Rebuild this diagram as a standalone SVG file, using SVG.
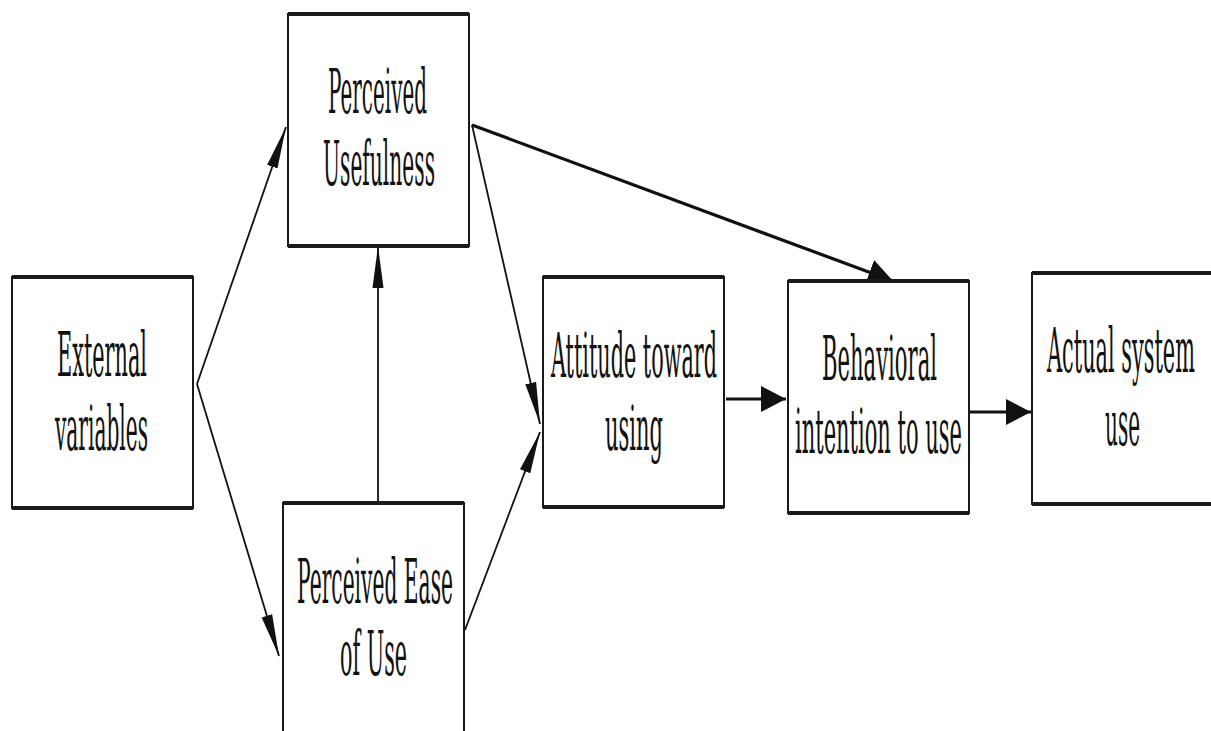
<svg xmlns="http://www.w3.org/2000/svg" width="1211" height="731" viewBox="0 0 1211 731">
<style>
.box{fill:#fff;stroke:#1a1a1a;stroke-width:2}
.edge{fill:none;stroke:#1a1a1a;stroke-width:4}
.lbl{font-family:"DejaVu Serif","Liberation Serif",serif;font-size:21px;fill:#111}
.thin{fill:none;stroke:#111;stroke-width:1.8}
.thick{fill:none;stroke:#111;stroke-width:3.2}
</style>
<defs>
<marker id="narrow" markerUnits="userSpaceOnUse" viewBox="0 0 42 12" markerWidth="42" markerHeight="12" refX="42" refY="6" orient="auto">
<path d="M0,0.5 L42,6 L0,11.5 Z" fill="#111"/>
</marker>
<marker id="wide" markerUnits="userSpaceOnUse" viewBox="0 0 25 26" markerWidth="25" markerHeight="26" refX="25" refY="13" orient="auto">
<path d="M0,0 L25,13 L0,26 Z" fill="#111"/>
</marker>
</defs>
<rect width="1211" height="731" fill="#fff"/>
<g id="connectors">
<path class="thin" d="M197,384 L286,127" marker-end="url(#narrow)"/>
<path class="thin" d="M197,384 L279,656" marker-end="url(#narrow)"/>
<path class="thin" d="M378,503 L378,246" marker-end="url(#narrow)"/>
<path class="thin" d="M472,125 L540,424" marker-end="url(#narrow)"/>
<path class="thin" d="M465,630 L540,432" marker-end="url(#narrow)"/>
<path class="thick" d="M472,125 L893,281" marker-end="url(#wide)"/>
<path class="thick" d="M726,399 L786,399" marker-end="url(#wide)"/>
<path class="thick" d="M970,412 L1031,412" marker-end="url(#wide)"/>
</g>
<g id="external">
<rect class="box" x="12" y="277" width="181" height="231"/>
<path class="edge" d="M12,277 H193 M12,508 H193"/>
<text class="lbl" transform="translate(57,376) scale(1,2.9)" textLength="90" lengthAdjust="spacingAndGlyphs">External</text>
<text class="lbl" transform="translate(55,450) scale(1,2.9)" textLength="93" lengthAdjust="spacingAndGlyphs">variables</text>
</g>
<g id="pu">
<rect class="box" x="288" y="14" width="181" height="232"/>
<path class="edge" d="M288,14 H469 M288,246 H469"/>
<text class="lbl" transform="translate(328,113) scale(1,2.9)" textLength="99" lengthAdjust="spacingAndGlyphs">Perceived</text>
<text class="lbl" transform="translate(323,185) scale(1,2.9)" textLength="112" lengthAdjust="spacingAndGlyphs">Usefulness</text>
</g>
<g id="peou">
<rect class="box" x="283" y="503" width="181" height="250"/>
<path class="edge" d="M283,503 H464"/>
<text class="lbl" transform="translate(297,603) scale(1,2.9)" textLength="156" lengthAdjust="spacingAndGlyphs">Perceived Ease</text>
<text class="lbl" transform="translate(340,675) scale(1,2.9)" textLength="67" lengthAdjust="spacingAndGlyphs">of Use</text>
</g>
<g id="attitude">
<rect class="box" x="543" y="277" width="181" height="230"/>
<path class="edge" d="M543,277 H724 M543,507 H724"/>
<text class="lbl" transform="translate(551,377) scale(1,2.9)" textLength="166" lengthAdjust="spacingAndGlyphs">Attitude toward</text>
<text class="lbl" transform="translate(605,450) scale(1,2.9)" textLength="58" lengthAdjust="spacingAndGlyphs">using</text>
</g>
<g id="intention">
<rect class="box" x="788" y="281" width="181" height="232"/>
<path class="edge" d="M788,281 H969 M788,513 H969"/>
<text class="lbl" transform="translate(822,380) scale(1,2.9)" textLength="115" lengthAdjust="spacingAndGlyphs">Behavioral</text>
<text class="lbl" transform="translate(795,453) scale(1,2.9)" textLength="167" lengthAdjust="spacingAndGlyphs">intention to use</text>
</g>
<g id="actual">
<rect class="box" x="1032" y="273" width="190" height="231"/>
<path class="edge" d="M1032,273 H1222 M1032,504 H1222"/>
<text class="lbl" transform="translate(1047,372) scale(1,2.9)" textLength="148" lengthAdjust="spacingAndGlyphs">Actual system</text>
<text class="lbl" transform="translate(1105,445) scale(1,2.9)" textLength="35" lengthAdjust="spacingAndGlyphs">use</text>
</g>
</svg>
